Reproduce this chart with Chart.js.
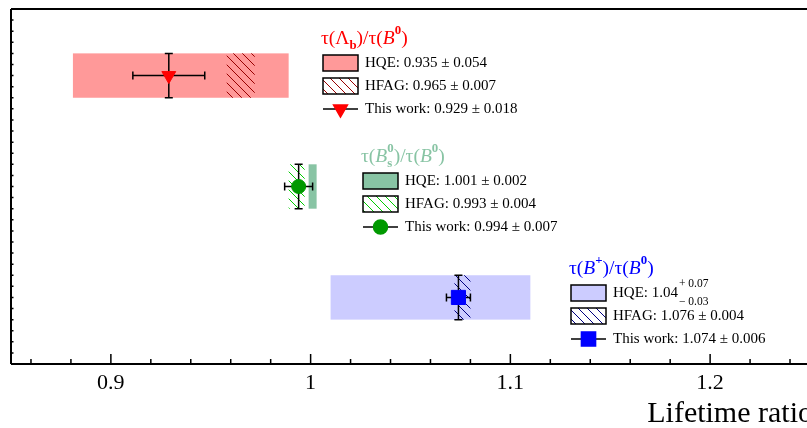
<!DOCTYPE html>
<html>
<head>
<meta charset="utf-8">
<script src="https://cdn.jsdelivr.net/npm/chart.js@4.4.0/dist/chart.umd.min.js"></script>
<style>
  html, body { margin: 0; padding: 0; background: #fff; }
  #wrap { width: 807px; height: 428px; }
</style>
</head>
<body>
<div id="wrap"><canvas id="chart" width="807" height="428"></canvas></div>
<script>
// Lifetime ratios, one row per ratio (top to bottom)
const rowPos = [0, 1, 2];
const hqeCentral = [0.935, 1.001, 1.04];
const hqeErrHi = [0.054, 0.002, 0.07];
const hqeErrLo = [0.054, 0.002, 0.03];
const hfagCentral = [0.965, 0.993, 1.076];
const hfagErr = [0.007, 0.004, 0.004];
const thisWork = [0.929, 0.994, 1.074];
const thisWorkErr = [0.018, 0.007, 0.006];
const xTicks = [0.9, 1, 1.1, 1.2];

// styling
const SERIF = '"Liberation Serif", "DejaVu Serif", serif';
const bandHalf = 0.2;
const fillColors = ['#ff9999', '#88c4a4', '#ccccff'];
const hatchColors = ['#990000', '#00cc00', '#000080'];
const markerColors = ['#ff0000', '#009900', '#0000ff'];
const titleColors = ['#ff0000', '#88c4a4', '#0000ff'];
const markerStyles = ['triangle', 'circle', 'rect'];
const markerRadius = [8, 7, 10];
const markerRotation = [180, 0, 0];
const legendAnchors = [{x: 323, y: 39}, {x: 363, y: 157}, {x: 571, y: 269}];

function makeHatch(color) {
    const c = document.createElement('canvas');
    c.width = 9; c.height = 9;
    const g = c.getContext('2d');
    g.strokeStyle = color;
    g.lineWidth = 1;
    g.beginPath();
    g.moveTo(-1, -1); g.lineTo(10, 10);
    g.moveTo(-1, 8); g.lineTo(1, 10);
    g.moveTo(8, -1); g.lineTo(10, 1);
    g.stroke();
    return g.createPattern(c, 'repeat');
}

const ctxMain = document.getElementById('chart').getContext('2d');
const hatchPatterns = hatchColors.map(makeHatch);

// draw a line of text made of pieces (normal, italic, sub, sup, stacked)
function drawRich(ctx, x, y, parts, color, size) {
    ctx.fillStyle = color;
    ctx.textBaseline = 'middle';
    ctx.textAlign = 'left';
    parts.forEach(p => {
        if (p.stack) {
            ctx.font = 'bold ' + (size * 0.66) + 'px ' + SERIF;
            let w = 0;
            if (p.sup) { ctx.fillText(p.sup, x, y - size * 0.42); w = Math.max(w, ctx.measureText(p.sup).width); }
            if (p.sub) { ctx.fillText(p.sub, x, y + size * 0.32); w = Math.max(w, ctx.measureText(p.sub).width); }
            x += w;
            return;
        }
        ctx.font = (p.italic ? 'italic ' : '') + size + 'px ' + SERIF;
        ctx.fillText(p.t, x, y);
        x += ctx.measureText(p.t).width;
    });
    return x;
}

const titles = [
    [{t: 'τ(Λ'}, {stack: true, sub: 'b'}, {t: ')/τ('}, {t: 'B', italic: true}, {stack: true, sup: '0'}, {t: ')'}],
    [{t: 'τ('}, {t: 'B', italic: true}, {stack: true, sup: '0', sub: 's'}, {t: ')/τ('}, {t: 'B', italic: true}, {stack: true, sup: '0'}, {t: ')'}],
    [{t: 'τ('}, {t: 'B', italic: true}, {stack: true, sup: '+'}, {t: ')/τ('}, {t: 'B', italic: true}, {stack: true, sup: '0'}, {t: ')'}]
];

function drawMarker(ctx, i, cx, cy) {
    Chart.helpers.drawPoint(ctx, {
        pointStyle: markerStyles[i],
        rotation: markerRotation[i],
        radius: markerRadius[i],
        borderWidth: 1
    }, cx, cy);
}

const lifetimePlugin = {
    id: 'lifetimeDraw',
    beforeDatasetsDraw(chart) {
        const {ctx, chartArea: a, scales: {x, y}} = chart;
        ctx.save();
        ctx.beginPath();
        ctx.rect(a.left, a.top, a.right - a.left, a.bottom - a.top);
        ctx.clip();
        rowPos.forEach((r, i) => {
            const yt = y.getPixelForValue(r - bandHalf);
            const yb = y.getPixelForValue(r + bandHalf);
            const top = Math.min(yt, yb), h = Math.abs(yb - yt);
            // HQE band
            const xl = x.getPixelForValue(hqeCentral[i] - hqeErrLo[i]);
            const xr = x.getPixelForValue(hqeCentral[i] + hqeErrHi[i]);
            ctx.fillStyle = fillColors[i];
            ctx.fillRect(xl, top, xr - xl, h);
            // HFAG hatched band
            const hl = x.getPixelForValue(hfagCentral[i] - hfagErr[i]);
            const hr = x.getPixelForValue(hfagCentral[i] + hfagErr[i]);
            ctx.fillStyle = hatchPatterns[i];
            ctx.fillRect(hl, top, hr - hl, h);
            // error bars of this work
            const cx = x.getPixelForValue(thisWork[i]);
            const cy = y.getPixelForValue(r);
            const el = x.getPixelForValue(thisWork[i] - thisWorkErr[i]);
            const er = x.getPixelForValue(thisWork[i] + thisWorkErr[i]);
            ctx.strokeStyle = '#000';
            ctx.lineWidth = 1.5;
            ctx.beginPath();
            ctx.moveTo(el, cy); ctx.lineTo(er, cy);
            ctx.moveTo(el, cy - 4); ctx.lineTo(el, cy + 4);
            ctx.moveTo(er, cy - 4); ctx.lineTo(er, cy + 4);
            ctx.moveTo(cx, top); ctx.lineTo(cx, top + h);
            ctx.moveTo(cx - 4, top); ctx.lineTo(cx + 4, top);
            ctx.moveTo(cx - 4, top + h); ctx.lineTo(cx + 4, top + h);
            ctx.stroke();
        });
        ctx.restore();
    },
    afterDraw(chart) {
        const {ctx, chartArea: a, scales: {x, y}} = chart;
        ctx.save();
        // frame
        ctx.strokeStyle = '#000';
        ctx.lineWidth = 2;
        ctx.beginPath();
        ctx.moveTo(a.left, a.bottom); ctx.lineTo(a.right + 5, a.bottom);
        ctx.moveTo(a.left, a.top); ctx.lineTo(a.right + 5, a.top);
        ctx.moveTo(a.left, a.top); ctx.lineTo(a.left, a.bottom);
        ctx.stroke();
        // x tick marks, pointing inward
        ctx.lineWidth = 1.5;
        ctx.beginPath();
        for (let k = 43; k <= 62; k++) {
            const px = x.getPixelForValue(k * 0.02);
            const len = (k % 5 === 0) ? 10 : 5;
            ctx.moveTo(px, a.bottom); ctx.lineTo(px, a.bottom - len);
        }
        // y tick marks
        for (let k = -6; k <= 26; k++) {
            const py = y.getPixelForValue(k / 10);
            ctx.moveTo(a.left, py); ctx.lineTo(a.left + 2.5, py);
        }
        ctx.stroke();

        // axis title
        ctx.fillStyle = '#000';
        ctx.font = '30px ' + SERIF;
        ctx.textAlign = 'right';
        ctx.textBaseline = 'middle';
        ctx.fillText('Lifetime ratio', x.getPixelForValue(1.25) + 3, 414);

        // legends
        rowPos.forEach((r, i) => {
            const lx = legendAnchors[i].x, ly = legendAnchors[i].y;
            drawRich(ctx, lx - 2, ly, titles[i], titleColors[i], 19.5);
            const rows = [ly + 24, ly + 47, ly + 70];
            // HQE box
            ctx.fillStyle = fillColors[i];
            ctx.fillRect(lx, rows[0] - 8, 35, 16);
            ctx.strokeStyle = '#000';
            ctx.lineWidth = 1.5;
            ctx.strokeRect(lx, rows[0] - 8, 35, 16);
            // HFAG box
            ctx.fillStyle = '#fff';
            ctx.fillRect(lx, rows[1] - 8, 35, 16);
            ctx.fillStyle = hatchPatterns[i];
            ctx.fillRect(lx, rows[1] - 8, 35, 16);
            ctx.strokeRect(lx, rows[1] - 8, 35, 16);
            // this work line + marker
            ctx.beginPath();
            ctx.moveTo(lx, rows[2]); ctx.lineTo(lx + 35, rows[2]);
            ctx.stroke();
            ctx.fillStyle = markerColors[i];
            ctx.strokeStyle = markerColors[i];
            drawMarker(ctx, i, lx + 17.5, rows[2]);

            const tx = lx + 42;
            if (hqeErrHi[i] !== hqeErrLo[i]) {
                const endX = drawRich(ctx, tx, rows[0], [{t: 'HQE: ' + hqeCentral[i].toFixed(2)}], '#000', 15);
                ctx.font = '11.5px ' + SERIF;
                ctx.fillText('+ ' + hqeErrHi[i].toFixed(2), endX + 1, rows[0] - 9);
                ctx.fillText('\u2212 ' + hqeErrLo[i].toFixed(2), endX + 1, rows[0] + 9);
            } else {
                drawRich(ctx, tx, rows[0], [{t: 'HQE: ' + hqeCentral[i].toFixed(3) + ' \u00b1 ' + hqeErrHi[i].toFixed(3)}], '#000', 15);
            }
            drawRich(ctx, tx, rows[1], [{t: 'HFAG: ' + hfagCentral[i].toFixed(3) + ' \u00b1 ' + hfagErr[i].toFixed(3)}], '#000', 15);
            drawRich(ctx, tx, rows[2], [{t: 'This work: ' + thisWork[i].toFixed(3) + ' \u00b1 ' + thisWorkErr[i].toFixed(3)}], '#000', 15);
        });
        ctx.restore();
    }
};

new Chart(ctxMain, {
    type: 'scatter',
    data: {
        datasets: rowPos.map((r, i) => ({
            label: 'This work ' + i,
            data: [{x: thisWork[i], y: r}],
            pointStyle: markerStyles[i],
            rotation: markerRotation[i],
            pointRadius: markerRadius[i],
            backgroundColor: markerColors[i],
            borderColor: markerColors[i],
            borderWidth: 1
        }))
    },
    options: {
        responsive: false,
        devicePixelRatio: 1,
        animation: false,
        layout: { autoPadding: false, padding: { left: 11, top: 9, right: 0, bottom: 0 } },
        plugins: { legend: { display: false }, tooltip: { enabled: false } },
        scales: {
            x: {
                type: 'linear',
                min: 0.85,
                max: 1.2485,
                grid: { display: false, drawTicks: false },
                border: { display: false },
                afterBuildTicks: s => { s.ticks = xTicks.map(v => ({ value: v })); },
                afterFit: s => { s.height = 64; },
                ticks: {
                    padding: 6,
                    color: '#000',
                    font: { family: SERIF, size: 22 },
                    callback: v => String(v)
                }
            },
            y: {
                type: 'linear',
                min: -0.6,
                max: 2.6,
                reverse: true,
                display: false
            }
        }
    },
    plugins: [lifetimePlugin]
});
</script>
</body>
</html>
